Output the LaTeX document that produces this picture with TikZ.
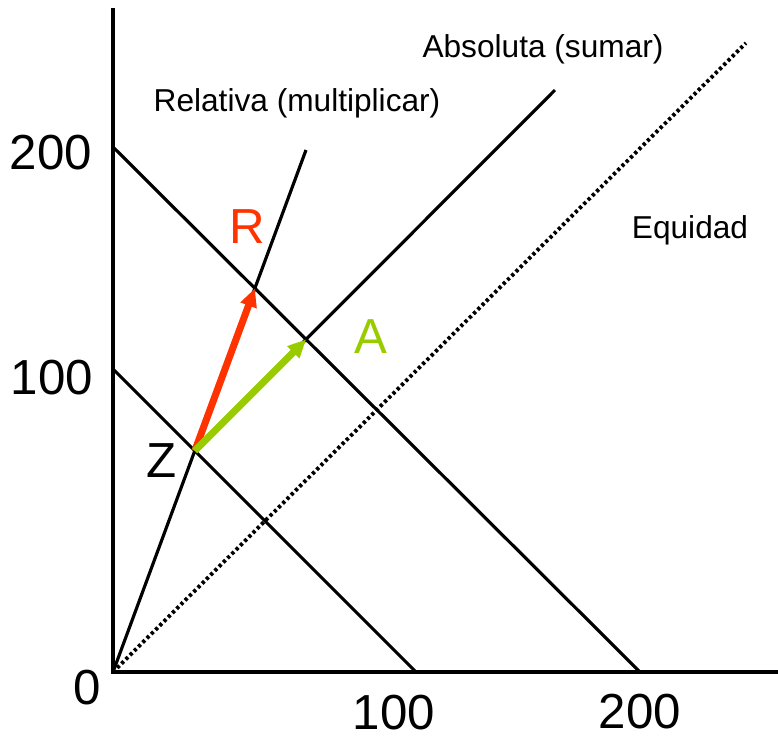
\documentclass[tikz,border=0pt]{standalone}
\usepackage{fontspec}
\setmainfont{Liberation Sans}
\usepackage{tikz}
\usetikzlibrary{arrows.meta}
\usepackage{xcolor}
\definecolor{relR}{RGB}{255, 51, 0}
\definecolor{absA}{RGB}{153, 204, 0}

\begin{document}
\begin{tikzpicture}[x=0.01cm, y=-0.01cm,
    axis/.style={line width=1.3pt},
    line/.style={line width=0.9pt},
    eqline/.style={line width=1.1pt, dash pattern=on 0.9pt off 0.8pt},
    vec/.style={line width=2pt, -{Triangle[length=5.2pt, width=4.6pt]}},
    big/.style={font=\fontsize{14}{16}\selectfont, inner sep=0pt},
    small/.style={font=\fontsize{9}{11}\selectfont, inner sep=0pt}]
  \useasboundingbox (0,0) rectangle (778,736);
  % axes and budget lines
  \coordinate (O) at (113,672);
  \coordinate (ytop) at (113,8);
  \coordinate (xend) at (778,672);
  \coordinate (b1y) at (113,369);
  \coordinate (b1x) at (416,672);
  \coordinate (b2y) at (113,147);
  \coordinate (b2x) at (640,672);
  \coordinate (reltop) at (306,150);
  \coordinate (abstop) at (555,90);
  \coordinate (eqtop) at (746,43);
  \coordinate (Z) at (intersection of O--reltop and b1y--b1x);
  \coordinate (R) at (intersection of O--reltop and b2y--b2x);
  \coordinate (A) at (intersection of Z--abstop and b2y--b2x);

  \draw[line] (b1y) -- (b1x);
  \draw[line] (b2y) -- (b2x);
  \draw[line] (O) -- (reltop);
  \draw[line] (Z) -- (abstop);
  \draw[eqline] (O) -- (eqtop);
  \draw[axis] (ytop) -- (O) -- (xend);

  % growth vectors
  \draw[vec, relR] (Z) -- (R);
  \draw[vec, absA] (Z) -- (A);

  % labels
  \node[big] (n0) at (87,688) {0};
  \node[big] (y100) at (52,378) {100};
  \node[big] (y200) at (51,153) {200};
  \node[big] (x100) at (394,713) {100};
  \node[big] (x200) at (640,712) {200};
  \node[big, relR] (lR) at (247,227) {R};
  \node[big, absA] (lA) at (371,337) {A};
  \node[big] (lZ) at (162,461) {Z};
  \node[small] (lrel) at (297,103) {Relativa (multiplicar)};
  \node[small] (labs) at (543,49) {Absoluta (sumar)};
  \node[small] (leq) at (690,230) {Equidad};
\end{tikzpicture}
\end{document}
